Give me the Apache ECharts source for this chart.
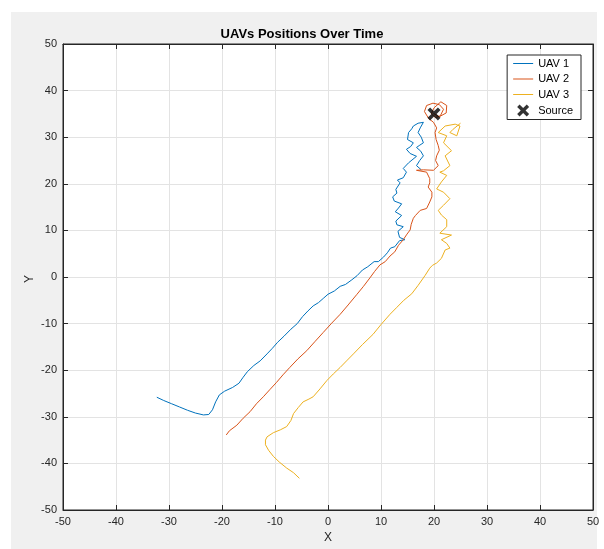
<!DOCTYPE html>
<html>
<head>
  <meta charset="UTF-8" />
  <title>UAVs Positions Over Time</title>
  <script src="https://cdn.jsdelivr.net/npm/echarts@6/dist/echarts.min.js"></script>
  <style>
    html, body, #main {
      margin: 0; padding: 0; width: 100%; height: 100%;
      background: #ffffff;
      font-family: "Liberation Sans", Arial, Helvetica, sans-serif;
    }
  </style>
</head>
<body>
  <div id="main"></div>
  <script>
    const chart = echarts.init(document.getElementById('main'));

    const seriesNames = ['UAV 1', 'UAV 2', 'UAV 3', 'Source'];
    const seriesColors = ['#0072BD', '#D95319', '#EDB120', '#000000'];
    const axisTicks = [-50, -40, -30, -20, -10, 0, 10, 20, 30, 40, 50];

    const uav1 = [
      [-32.3, -25.8], [-31, -26.5], [-29.5, -27.2], [-28, -27.9], [-26.5, -28.6], [-25, -29.2],
      [-23.5, -29.6], [-22.5, -29.5], [-21.8, -28.5], [-21.2, -26.8], [-20.5, -25.3], [-19.5, -24.5],
      [-18, -23.7], [-16.8, -22.8], [-16, -21.5], [-15.2, -20.3], [-14, -19], [-12.8, -18],
      [-11.5, -16.5], [-10.5, -15.3], [-9.5, -14], [-8.3, -12.7], [-7, -11.2], [-5.8, -10],
      [-4.8, -8.5], [-3.8, -7.3], [-2.8, -6.2], [-1.8, -5.5], [-0.8, -4.5], [0, -3.7],
      [1.2, -3], [2.3, -2], [3.3, -1.6], [4.5, -0.6], [5.5, 0.3], [6.5, 1.5], [7.5, 2.2],
      [8.7, 3.3], [9.5, 3.3], [10.5, 4.3], [11.2, 5.2], [11.8, 6.2], [12.6, 6.5], [13.5, 7.8],
      [14.5, 8], [13.5, 8.5], [13.2, 9.8], [14.2, 10.8], [13, 11.2], [12.8, 12], [13.9, 13.2],
      [12.7, 14], [13.3, 14.8], [13.9, 15.7], [12.5, 16.3], [12.2, 17.2], [13, 18], [12.8, 18.8],
      [13.6, 20.2], [13.1, 20.8], [14.2, 21.3], [14.8, 22.5], [14.2, 23.3], [15.2, 24.5],
      [16.7, 25.9], [15.5, 26.5], [14.8, 27.4], [15.6, 28], [16.1, 28.8], [15, 29.5], [15.2, 31],
      [15.8, 31.8], [16.1, 32.4], [17, 33], [18, 33.2], [17.4, 32], [17, 31], [17.6, 30],
      [18, 28.8], [17.2, 28.2], [16.7, 27.8], [17.5, 27], [18, 26], [17.3, 25], [16.7, 23.9],
      [17.6, 23]
    ];

    const uav2 = [
      [-19.2, -33.9], [-18.6, -33], [-17.2, -31.8], [-16, -30.3], [-14.7, -28.9], [-13.5, -27.2],
      [-12.2, -25.7], [-11, -24.2], [-9.7, -22.6], [-8.5, -21], [-7.2, -19.4], [-5.7, -17.6],
      [-4, -15.8], [-2.5, -13.9], [-0.9, -11.9], [0.7, -9.9], [2.3, -8], [3.8, -6], [5.4, -3.8],
      [6.7, -2], [7.9, -0.2], [8.8, 1.2], [9.8, 2.6], [10.8, 3.3], [11.7, 4.5], [12.6, 5.4],
      [13.3, 6.8], [14.2, 8], [14.9, 9.2], [15.5, 10.1], [15.7, 11.3], [16.1, 12.6], [16.5, 13.2],
      [17.4, 14.3], [18.6, 14.7], [19.2, 16.1], [19.6, 17.2], [19.6, 18.2], [18.9, 19.3],
      [19.2, 20.2], [19.2, 21.1], [18.6, 22.5], [16.7, 22.9], [18, 23], [19.9, 22.9], [20.8, 23.9],
      [20.3, 25], [20.5, 26], [21, 27.2], [20.8, 28.2], [20.4, 29.5], [20.2, 31], [20.5, 32],
      [19.9, 33.2], [19, 34], [18.2, 35.5], [18.6, 36.8], [19.8, 37.3], [21, 37], [21.8, 36],
      [21.2, 34.6], [20.3, 34.2], [19.5, 35], [20, 36.3], [21.3, 37.6], [22.4, 36.8], [22.3, 35.2],
      [21, 34.4], [19.9, 35.1]
    ];

    const uav3 = [
      [-5.4, -43.2], [-6.5, -42], [-7.8, -41], [-9.2, -39.7], [-10.3, -38.5], [-11.2, -37.2],
      [-11.8, -36], [-11.8, -35], [-11.5, -34.3], [-10.3, -33.4], [-9, -32.8], [-7.8, -32.1],
      [-7, -30.8], [-6.5, -29.3], [-5.6, -28], [-4.7, -26.8], [-3.6, -26.2], [-2.8, -25.7],
      [-1.5, -24], [-0.2, -22.2], [1, -20.8], [2.3, -19.4], [3.5, -18], [4.8, -16.5], [6.5, -14.5],
      [8.5, -12.3], [10, -10.2], [11.7, -8], [13, -6.5], [14.3, -5], [15.8, -3.6], [17, -1.8],
      [18.3, 0.3], [19.2, 1.9], [19.7, 2.5], [20.5, 3], [21.4, 4], [22.1, 5.8], [23, 6.2],
      [22.4, 7.2], [21.4, 8], [23.3, 9], [21.1, 9.4], [22.4, 10.8], [22.4, 12.3], [21.4, 13.3],
      [20.8, 14.3], [21.8, 15.4], [23, 16.8], [21.8, 18.2], [20.5, 18.9], [21.4, 20.4],
      [22.4, 21.8], [21.1, 22.5], [21.8, 22.8], [23, 23.9], [22.1, 26], [23.3, 27.1], [21.8, 28.8],
      [22.4, 30.3], [20.8, 31], [22.1, 32.4], [24, 32.8], [24.9, 32.4], [24.3, 30.3], [23, 31],
      [23.6, 31.7], [25, 33]
    ];

    const source = [[20, 35]];

    const xMark = 'path://M0,2 L2,0 L5,3 L8,0 L10,2 L7,5 L10,8 L8,10 L5,7 L2,10 L0,8 L3,5 Z';
    const lineMark = 'path://M0,0 L20,0 L20,1 L0,1 Z';
    const axisColor = '#262626';

    function lineSeries(name, data, color) {
      return {
        name: name,
        type: 'line',
        data: data,
        symbol: 'none',
        smooth: false,
        lineStyle: { color: color, width: 1 },
        itemStyle: { color: color },
        z: 3
      };
    }

    const boxAxis = {
      min: -50, max: 50, interval: 10,
      axisLine: { show: true, onZero: false, lineStyle: { color: axisColor, width: 1 } },
      axisTick: { show: true, inside: true, length: 5, lineStyle: { color: axisColor } },
      axisLabel: { show: false },
      splitLine: { show: false }
    };

    chart.setOption({
      animation: false,
      graphic: [{
        type: 'rect',
        z: -10,
        shape: { x: 11, y: 12, width: 586, height: 537 },
        style: { fill: '#f0f0f0' }
      }, {
        // y axis title, placed by hand like MATLAB's ylabel
        type: 'text',
        x: 30,
        y: 279,
        rotation: Math.PI / 2,
        style: {
          text: 'Y',
          fill: axisColor,
          font: '12px "Liberation Sans"',
          align: 'center',
          verticalAlign: 'middle'
        }
      }],
      title: {
        text: 'UAVs Positions Over Time',
        left: 'center',
        top: 23,
        textStyle: { fontSize: 13, fontWeight: 'bold', color: '#000', fontFamily: 'Liberation Sans' }
      },
      grid: {
        left: 63, right: 11, top: 44, bottom: 35,
        show: true,
        backgroundColor: '#ffffff',
        borderColor: axisColor,
        borderWidth: 1
      },
      legend: {
        right: 23,
        top: 55,
        orient: 'vertical',
        align: 'left',
        backgroundColor: '#ffffff',
        borderColor: axisColor,
        borderWidth: 1,
        padding: [3, 8, 3, 6],
        itemWidth: 20,
        itemHeight: 12,
        itemGap: 4.5,
        selectedMode: false,
        symbolKeepAspect: true,
        textStyle: { fontSize: 11, color: '#000', fontFamily: 'Liberation Sans' },
        data: [
          { name: seriesNames[0], icon: lineMark },
          { name: seriesNames[1], icon: lineMark },
          { name: seriesNames[2], icon: lineMark },
          { name: seriesNames[3], icon: xMark, itemStyle: { color: '#000' } }
        ]
      },
      xAxis: [
        Object.assign({}, boxAxis, {
          type: 'value',
          position: 'bottom',
          name: 'X',
          nameLocation: 'middle',
          nameGap: 22,
          nameTextStyle: { fontSize: 12, color: axisColor },
          axisLabel: {
            show: true, fontSize: 11, color: axisColor, margin: 6,
            formatter: v => axisTicks.includes(v) ? String(v) : ''
          },
          splitLine: { show: true, lineStyle: { color: '#e3e3e3', width: 1 } }
        }),
        Object.assign({}, boxAxis, { type: 'value', position: 'top' })
      ],
      yAxis: [
        Object.assign({}, boxAxis, {
          type: 'value',
          position: 'left',
          axisLabel: {
            show: true, fontSize: 11, color: axisColor, margin: 6,
            formatter: v => axisTicks.includes(v) ? String(v) : ''
          },
          splitLine: { show: true, lineStyle: { color: '#e3e3e3', width: 1 } }
        }),
        Object.assign({}, boxAxis, { type: 'value', position: 'right' })
      ],
      series: [
        lineSeries(seriesNames[0], uav1, seriesColors[0]),
        lineSeries(seriesNames[1], uav2, seriesColors[1]),
        lineSeries(seriesNames[2], uav3, seriesColors[2]),
        {
          name: seriesNames[3],
          type: 'scatter',
          data: source,
          symbol: xMark,
          symbolSize: 13,
          itemStyle: { color: seriesColors[3] },
          z: 5
        }
      ]
    });
  </script>
</body>
</html>
